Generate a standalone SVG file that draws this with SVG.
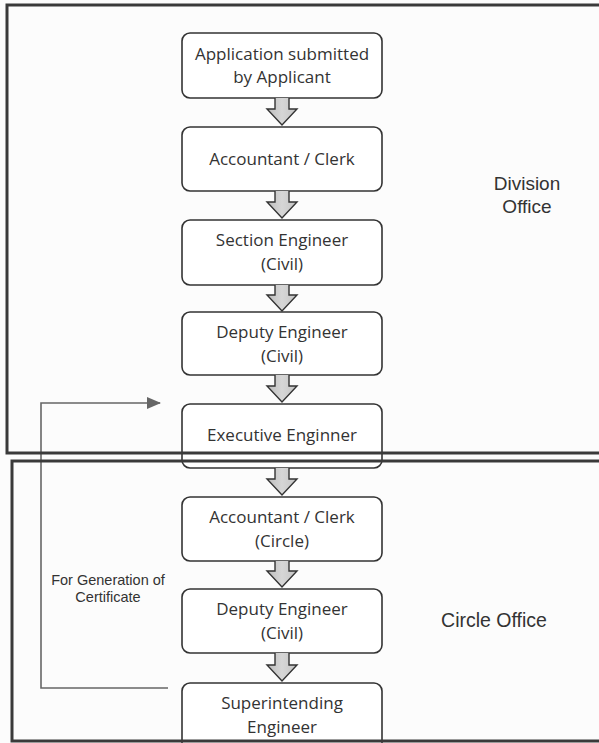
<svg xmlns="http://www.w3.org/2000/svg" width="599" height="743" viewBox="0 0 599 743">
<defs>
<linearGradient id="ag" x1="0" y1="0" x2="1" y2="0">
<stop offset="0" stop-color="#bdbdbd"/>
<stop offset="0.5" stop-color="#d6d6d6"/>
<stop offset="1" stop-color="#c4c4c4"/>
</linearGradient>
<marker id="tri2" viewBox="0 0 14 12" refX="13" refY="6" markerWidth="14" markerHeight="12" markerUnits="userSpaceOnUse" orient="auto">
<path d="M0,0 L14,6 L0,12 Z" fill="#666"/>
</marker>
</defs>
<style>
.node rect{fill:#fff;stroke:#333;stroke-width:1.6}
.nt{font-family:"Open Sans","Liberation Sans",sans-serif;font-size:17px;fill:#333;text-anchor:middle}
.lbl{font-family:"Liberation Sans",Arial,sans-serif;fill:#333;text-anchor:middle}
.blk{fill:url(#ag);stroke:#333;stroke-width:1.4;stroke-linejoin:miter}
.frame{fill:none;stroke:#3a3a3a;stroke-width:3}
.fb{fill:none;stroke:#666;stroke-width:1.6}
</style>
<rect width="599" height="743" fill="#fcfcfc"/>

<g id="n1" class="node"><rect x="182" y="33" width="200" height="65" rx="8"/><text class="nt" x="282" y="60">Application submitted</text><text class="nt" x="282" y="83">by Applicant</text></g>
<g id="n2" class="node"><rect x="182" y="127" width="200" height="64" rx="8"/><text class="nt" x="282" y="165">Accountant / Clerk</text></g>
<g id="n3" class="node"><rect x="182" y="220" width="200" height="65" rx="8"/><text class="nt" x="282" y="246">Section Engineer</text><text class="nt" x="282" y="270">(Civil)</text></g>
<g id="n4" class="node"><rect x="182" y="312" width="200" height="63" rx="8"/><text class="nt" x="282" y="338">Deputy Engineer</text><text class="nt" x="282" y="362">(Civil)</text></g>
<g id="n5" class="node"><rect x="182" y="404" width="200" height="64" rx="8"/><text class="nt" x="282" y="441">Executive Enginner</text></g>
<g id="n6" class="node"><rect x="182" y="497" width="200" height="64" rx="8"/><text class="nt" x="282" y="523">Accountant / Clerk</text><text class="nt" x="282" y="547">(Circle)</text></g>
<g id="n7" class="node"><rect x="182" y="589" width="200" height="64" rx="8"/><text class="nt" x="282" y="615">Deputy Engineer</text><text class="nt" x="282" y="639">(Civil)</text></g>
<g id="n8" class="node"><rect x="182" y="683" width="200" height="72" rx="8"/><text class="nt" x="282" y="709">Superintending</text><text class="nt" x="282" y="733">Engineer</text></g>

<g id="connectors">
<path class="blk" d="M275,98 V109 H267 L282,125 L297,109 H289 V98"/>
<path class="blk" d="M275,191 V202 H267 L282,218 L297,202 H289 V191"/>
<path class="blk" d="M275,285 V295 H267 L282,311 L297,295 H289 V285"/>
<path class="blk" d="M275,375 V386 H267 L282,402 L297,386 H289 V375"/>
<path class="blk" d="M275,468 V479 H267 L282,495 L297,479 H289 V468"/>
<path class="blk" d="M275,561 V571 H267 L282,587 L297,571 H289 V561"/>
<path class="blk" d="M275,653 V665 H267 L282,681 L297,665 H289 V653"/>
<path class="fb" d="M168,688 H41 V403 H160" marker-end="url(#tri2)"/>
</g>

<g id="division-office">
<path class="frame" d="M605,5 H7 V453 H605"/>
<text class="lbl" font-size="19" x="527" y="190">Division</text>
<text class="lbl" font-size="19" x="527" y="213">Office</text>
</g>
<g id="circle-office">
<path class="frame" d="M605,461 H12 V741 H605"/>
<text class="lbl" font-size="19.5" x="494" y="627">Circle Office</text>
</g>
<g id="feedback-label">
<text class="lbl" font-size="14.5" x="108" y="585">For Generation of</text>
<text class="lbl" font-size="14.5" x="108" y="602">Certificate</text>
</g>
</svg>
